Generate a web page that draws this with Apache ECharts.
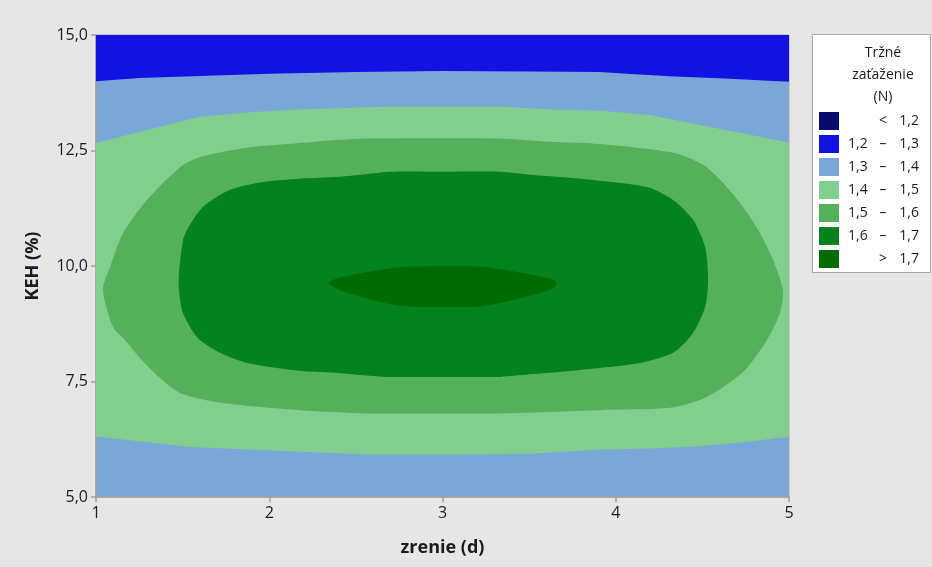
<!DOCTYPE html>
<html>
<head>
<meta charset="utf-8">
<script src="https://cdn.jsdelivr.net/npm/echarts@6/dist/echarts.min.js"></script>
<style>
  html, body { margin: 0; padding: 0; background: #e6e6e6; }
  #chart { width: 932px; height: 567px; }
</style>
</head>
<body>
<div id="chart"></div>
<script>
// Contour bands of the fitted surface: Tržné zaťaženie (N) over zrenie (d) and KEH (%)
const legendTitle = ['Tržné', 'zaťaženie', '(N)'];
const legendLow  = ['',  '1,2', '1,3', '1,4', '1,5', '1,6', ''];
const legendSym  = ['<', '–',   '–',   '–',   '–',   '–',   '>'];
const legendHigh = ['1,2', '1,3', '1,4', '1,5', '1,6', '1,7', '1,7'];
const levelColors = ['#0b0b6e', '#1212e2', '#7ba7d8', '#82ce8e', '#55b05c', '#03821f', '#006b00'];

const xTickRange = [1, 5];
const yTickRange = [5, 15];

// 1,2 – 1,3 band along the top edge
const contourBlue = [
  [1, 15], [5, 15],
  [5, 13.99], [4.94, 14.0], [4.63, 14.06], [4.34, 14.10], [4.06, 14.16], [3.91, 14.20],
  [3.5, 14.21], [3.0, 14.22], [2.5, 14.20], [2.0, 14.16], [1.6, 14.11], [1.25, 14.07], [1, 14.0]
];

// 1,4 – 1,5 band (upper edge left→right, lower edge right→left)
const contourLightGreen = [
  [1.0, 12.66], [1.30, 12.95], [1.60, 13.23], [1.889, 13.33], [2.177, 13.39], [2.697, 13.45],
  [3.332, 13.45], [3.620, 13.39], [3.909, 13.36], [4.198, 13.27], [4.486, 13.05], [4.775, 12.84],
  [5.0, 12.67],
  [5.0, 6.31], [4.775, 6.20], [4.486, 6.10], [4.198, 6.05], [3.909, 6.03], [3.488, 5.93],
  [3.0, 5.92], [2.564, 5.92], [2.177, 5.98], [1.889, 6.03], [1.543, 6.08], [1.312, 6.18],
  [1.0, 6.31]
];

// 1,5 – 1,6 band
const contourMidGreen = [
  [1.040, 9.48], [1.081, 9.98], [1.156, 10.71], [1.294, 11.43], [1.485, 12.14], [1.600, 12.36],
  [1.872, 12.56], [2.177, 12.66], [2.408, 12.73], [2.564, 12.76], [3.332, 12.76], [3.620, 12.69],
  [3.909, 12.64], [4.331, 12.45], [4.504, 12.19], [4.619, 11.80], [4.734, 11.28], [4.833, 10.71],
  [4.908, 10.13], [4.965, 9.48], [4.948, 8.98], [4.873, 8.40], [4.746, 7.75], [4.613, 7.36],
  [4.486, 7.10], [4.313, 6.93], [3.909, 6.88], [3.332, 6.81], [3.0, 6.81], [2.564, 6.81],
  [2.177, 6.88], [1.889, 6.97], [1.658, 7.08], [1.485, 7.25], [1.369, 7.58], [1.254, 8.01],
  [1.167, 8.40], [1.098, 8.68]
];

// 1,6 – 1,7 band
const contourGreen = [
  [1.479, 9.85], [1.502, 10.56], [1.525, 10.78], [1.618, 11.28], [1.773, 11.65], [1.964, 11.82],
  [2.177, 11.89], [2.408, 11.93], [2.697, 12.04], [3.0, 12.04], [3.332, 12.04], [3.522, 11.97],
  [3.794, 11.89], [4.181, 11.71], [4.331, 11.43], [4.446, 11.00], [4.516, 10.41], [4.533, 9.70],
  [4.516, 9.11], [4.446, 8.55], [4.331, 8.12], [4.140, 7.90], [3.794, 7.75], [3.522, 7.66],
  [3.332, 7.60], [3.0, 7.60], [2.680, 7.60], [2.408, 7.68], [2.177, 7.73], [1.872, 7.90],
  [1.716, 8.12], [1.583, 8.46], [1.502, 8.98], [1.479, 9.48]
];

// > 1,7 peak
const contourPeak = [
  [2.339, 9.63], [2.408, 9.75], [2.524, 9.84], [2.678, 9.94], [2.812, 9.99], [3.216, 9.99],
  [3.371, 9.91], [3.522, 9.81], [3.638, 9.70], [3.661, 9.63], [3.638, 9.52], [3.522, 9.37],
  [3.371, 9.23], [3.216, 9.12], [2.812, 9.12], [2.678, 9.19], [2.524, 9.34], [2.408, 9.48]
];

const FONT = 'Open Sans';
const TEXT = '#1a1a24';

function bandSeries(points, color, smooth) {
  return {
    type: 'custom',
    coordinateSystem: 'cartesian2d',
    clip: true,
    silent: true,
    data: points,
    encode: { x: 0, y: 1 },
    renderItem: function (params, api) {
      if (params.dataIndex !== 0) return null;
      const pts = points.map(function (p) { return api.coord(p); });
      return { type: 'polygon', shape: { points: pts, smooth: smooth || 0 }, style: { fill: color } };
    }
  };
}

// Legend box drawn as graphic elements
const legendGraphics = [{
  type: 'rect', left: 812, top: 34,
  shape: { width: 118, height: 238 },
  style: { fill: '#ffffff', stroke: '#a8a8a8', lineWidth: 1 }
}];
legendTitle.forEach(function (t, i) {
  legendGraphics.push({
    type: 'text', x: 883, y: 53 + i * 22,
    style: { text: t, fill: TEXT, font: '500 14px "' + FONT + '"', align: 'center', verticalAlign: 'middle' }
  });
});
levelColors.forEach(function (c, i) {
  const cy = 121 + i * 23;
  legendGraphics.push({
    type: 'rect', x: 819, y: cy - 9, shape: { width: 20, height: 18 }, style: { fill: c }
  });
  const font = '14px "' + FONT + '"';
  if (legendLow[i]) legendGraphics.push({
    type: 'text', x: 848, y: cy,
    style: { text: legendLow[i], fill: TEXT, font: font, align: 'left', verticalAlign: 'middle' }
  });
  legendGraphics.push({
    type: 'text', x: 883, y: cy,
    style: { text: legendSym[i], fill: TEXT, font: font, align: 'center', verticalAlign: 'middle' }
  });
  legendGraphics.push({
    type: 'text', x: 919, y: cy,
    style: { text: legendHigh[i], fill: TEXT, font: font, align: 'right', verticalAlign: 'middle' }
  });
});

const chart = echarts.init(document.getElementById('chart'), null, { renderer: 'canvas' });
chart.setOption({
  animation: false,
  backgroundColor: '#e6e6e6',
  textStyle: { fontFamily: FONT },
  grid: {
    left: 96, right: 143, top: 35, bottom: 70,
    show: true, backgroundColor: levelColors[2], borderColor: '#a8a8a8', borderWidth: 1
  },
  xAxis: {
    type: 'value', min: xTickRange[0], max: xTickRange[1], interval: 1,
    name: 'zrenie (d)', nameLocation: 'middle', nameGap: 42,
    nameTextStyle: { fontSize: 18, fontWeight: 'bold', color: TEXT, fontFamily: FONT },
    axisLine: { show: true, lineStyle: { color: '#a0a0a0', width: 1.5 } },
    axisTick: { show: true, length: 5, lineStyle: { color: '#a0a0a0', width: 1.5 } },
    axisLabel: { fontSize: 16, color: TEXT, margin: 8, fontFamily: FONT },
    splitLine: { show: false }
  },
  yAxis: {
    type: 'value', min: yTickRange[0], max: yTickRange[1], interval: 2.5,
    name: 'KEH (%)', nameLocation: 'middle', nameGap: 54, nameRotate: 90,
    nameTextStyle: { fontSize: 18, fontWeight: 'bold', color: TEXT, fontFamily: FONT },
    axisLine: { show: true, lineStyle: { color: '#a0a0a0', width: 1.5 } },
    axisTick: { show: true, length: 5, lineStyle: { color: '#a0a0a0', width: 1.5 } },
    axisLabel: {
      fontSize: 16, color: TEXT, margin: 8, fontFamily: FONT,
      formatter: function (v) { return v.toFixed(1).replace('.', ','); }
    },
    splitLine: { show: false }
  },
  series: [
    bandSeries(contourBlue, levelColors[1]),
    bandSeries(contourLightGreen, levelColors[3]),
    bandSeries(contourMidGreen, levelColors[4], 0.25),
    bandSeries(contourGreen, levelColors[5], 0.25),
    bandSeries(contourPeak, levelColors[6], 0.2)
  ],
  graphic: legendGraphics
});
</script>
</body>
</html>
